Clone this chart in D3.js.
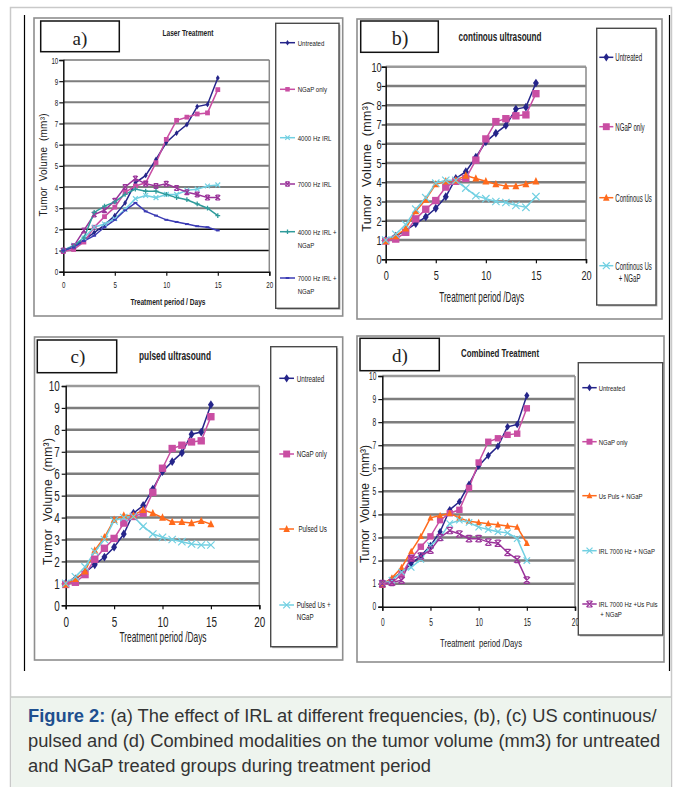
<!DOCTYPE html>
<html>
<head>
<meta charset="utf-8">
<script src="https://cdn.jsdelivr.net/npm/d3@7/dist/d3.min.js"></script>
<style>
  body { margin: 0; background: #fff; }
  text { fill: #222; }
</style>
</head>
<body>
<svg id="fig" width="675" height="787"></svg>
<script>
// ---- data ----
var days = [0, 1, 2, 3, 4, 5, 6, 7, 8, 9, 10, 11, 12, 13, 14, 15];
var xTicks = [0, 5, 10, 15, 20];
var yTicks = [0, 1, 2, 3, 4, 5, 6, 7, 8, 9, 10];

var untreated   = [1.0, 1.2, 1.5, 1.85, 2.2, 2.65, 3.25, 4.2, 4.55, 5.3, 6.1, 6.55, 6.95, 7.8, 7.9, 9.15];
var ngapOnly    = [0.95, 1.05, 1.4, 2.1, 2.6, 3.05, 3.75, 4.05, 4.2, 5.15, 6.25, 7.15, 7.3, 7.45, 7.5, 8.6];
var irl4000     = [1.0, 1.25, 1.6, 2.1, 2.25, 2.5, 2.95, 3.45, 3.6, 3.5, 3.65, 3.65, 3.85, 3.9, 4.05, 4.1];
var irl7000     = [1.0, 1.2, 1.95, 2.7, 2.9, 3.35, 4.0, 4.4, 4.15, 4.05, 4.15, 3.95, 3.75, 3.65, 3.5, 3.5];
var irl4000Ngap = [1.0, 1.2, 1.6, 2.8, 3.1, 3.3, 3.65, 3.9, 3.8, 3.8, 3.65, 3.5, 3.4, 3.2, 3.0, 2.65];
var irl7000Ngap = [1.0, 1.15, 1.45, 1.7, 2.1, 2.45, 2.9, 3.25, 2.85, 2.65, 2.45, 2.35, 2.25, 2.15, 2.1, 1.95];
var contUs      = [0.95, 1.2, 1.6, 2.5, 3.1, 3.9, 4.05, 4.1, 4.35, 4.2, 4.05, 3.9, 3.8, 3.8, 3.9, 4.05];
var contUsNgap  = [1.0, 1.3, 1.8, 2.6, 3.2, 3.95, 4.1, 4.1, 3.7, 3.3, 3.15, 3.0, 2.95, 2.8, 2.7, 3.25];
var pulsedUs    = [0.95, 1.2, 1.55, 2.5, 3.1, 3.9, 4.1, 4.1, 4.35, 4.2, 4.0, 3.8, 3.8, 3.75, 3.85, 3.7];
var pulsedUsNgap = [1.0, 1.3, 1.75, 2.45, 3.0, 3.85, 4.0, 4.05, 3.6, 3.25, 3.1, 3.0, 2.9, 2.8, 2.75, 2.75];
var usPulsNgap  = [0.95, 1.25, 1.7, 2.4, 3.05, 3.85, 3.95, 4.05, 3.85, 3.7, 3.65, 3.6, 3.55, 3.5, 3.45, 2.75];
var irl7000NgapD = [1.0, 1.15, 1.5, 1.7, 2.05, 2.65, 3.0, 3.6, 3.75, 3.65, 3.45, 3.35, 3.25, 3.2, 2.95, 2.0];
var irl7000UsPulsNgap = [1.0, 1.05, 1.15, 2.1, 2.2, 2.45, 3.0, 3.3, 3.15, 2.95, 2.95, 2.8, 2.75, 2.35, 2.05, 1.15];

var captionLines = [
  ["Figure 2:", " (a) The effect of IRL at different frequencies, (b), (c) US continuous/"],
  ["", "pulsed and (d) Combined modalities on the tumor volume (mm3) for untreated"],
  ["", "and NGaP treated groups during treatment period"]
];

var C = {
  navy: "#25258a", pink: "#c94ea3", cyan: "#72d0e2", purple: "#9a339a",
  teal: "#2f9b9b", blue: "#3b3bb4", orange: "#ff6a1c"
};

var sans = "Arial,'Liberation Sans',sans-serif";

var panels = [
  {
    tag: "a)", box: [34, 18, 342.7, 316], tagBox: [40.7, 21, 119.3, 51.7], tagPos: [80, 44.5], tagSize: 19,
    title: "Laser Treatment", titlePos: [188, 35.5], titleSize: 9.5, titleW: 51,
    plot: [63.3, 269.3, 271.7, 60], tickSize: 9.5, tickSx: 0.65, tickGap: 5, xTickY: 285,
    xTitle: "Treatment period / Days", xTitlePos: [168, 304.5], xTitleSize: 9.5, xTitleW: 75, xTitleBold: true,
    yTitlePos: [43.3, 165], yTitleSize: 10, yTitleW: 103, blackGrid: [1, 2], gridW: 2,
    legend: { box: [275.7, 23.3, 339, 308.3], rows: [42.7, 89.3, 137.7, 184, 231.7, 278], sx: [280, 295], tx: 297.7, size: 7.8, tsx: 0.78, lh: 13.5 },
    mk: 0.75,
    series: [
      { name: ["Untreated"], v: untreated, c: C.navy, m: "diamond" },
      { name: ["NGaP only"], v: ngapOnly, c: C.pink, m: "square" },
      { name: ["4000 Hz IRL"], v: irl4000, c: C.cyan, m: "x" },
      { name: ["7000 Hz IRL"], v: irl7000, c: C.purple, m: "star" },
      { name: ["4000 Hz IRL +", "NGaP"], v: irl4000Ngap, c: C.teal, m: "plus" },
      { name: ["7000 Hz IRL +", "NGaP"], v: irl7000Ngap, c: C.blue, m: "dash" }
    ]
  },
  {
    tag: "b)", box: [357, 19, 662, 319], tagBox: [360.7, 21, 438.3, 52.3], tagPos: [400, 45], tagSize: 20,
    title: "continous ultrasound", titlePos: [500, 41], titleSize: 13, titleW: 83,
    plot: [385.7, 586, 259.3, 66.7], tickSize: 13.5, tickSx: 0.68, tickGap: 4, xTickY: 275,
    xTitle: "Treatment period /Days", xTitlePos: [481.7, 301.5], xTitleSize: 14.5, xTitleW: 85, xTitleBold: false,
    yTitlePos: [366.7, 166.7], yTitleSize: 12.5, yTitleW: 130, blackGrid: [], gridW: 2.5,
    legend: { box: [596.7, 28.3, 656, 305], rows: [57.3, 126.7, 197.7, 265.7], sx: [599.3, 613.3], tx: 615.3, size: 11.5, tsx: 0.53, lh: 12.6 },
    mk: 1.15,
    series: [
      { name: ["Untreated"], v: untreated, c: C.navy, m: "diamond" },
      { name: ["NGaP only"], v: ngapOnly, c: C.pink, m: "square" },
      { name: ["Continous Us"], v: contUs, c: C.orange, m: "triangle" },
      { name: ["Continous Us", "  + NGaP"], v: contUsNgap, c: C.cyan, m: "x" }
    ]
  },
  {
    tag: "c)", box: [34.5, 337, 342.7, 660], tagBox: [37.3, 340, 116.7, 372.7], tagPos: [78, 363], tagSize: 19,
    title: "pulsed ultrasound", titlePos: [175, 359.5], titleSize: 13, titleW: 72,
    plot: [65.7, 259.3, 605.3, 386], tickSize: 15, tickSx: 0.66, tickGap: 6, xTickY: 621.5,
    xTitle: "Treatment period /Days", xTitlePos: [163, 642], xTitleSize: 14.5, xTitleW: 87, xTitleBold: false,
    yTitlePos: [47.3, 501.5], yTitleSize: 12, yTitleW: 127, blackGrid: [], gridW: 2.5,
    legend: { box: [270.7, 346.7, 336.7, 646.7], rows: [378.3, 454, 529, 605], sx: [279.3, 294], tx: 296.7, size: 9.5, tsx: 0.66, lh: 11.5 },
    mk: 1.15,
    series: [
      { name: ["Untreated"], v: untreated, c: C.navy, m: "diamond" },
      { name: ["NGaP only"], v: ngapOnly, c: C.pink, m: "square" },
      { name: [" Pulsed Us"], v: pulsedUs, c: C.orange, m: "triangle" },
      { name: ["Pulsed Us +", "NGaP"], v: pulsedUsNgap, c: C.cyan, m: "x" }
    ]
  },
  {
    tag: "d)", box: [357, 336, 664, 662], tagBox: [360, 338.3, 439.3, 370.7], tagPos: [400, 361.5], tagSize: 19,
    title: "Combined Treatment", titlePos: [500, 356.5], titleSize: 10.5, titleW: 78,
    plot: [382.3, 575, 606.7, 376], tickSize: 10, tickSx: 0.66, tickGap: 6, xTickY: 622.7,
    xTitle: "Treatment  period /Days", xTitlePos: [481, 647], xTitleSize: 11, xTitleW: 82, xTitleBold: false,
    yTitlePos: [364, 504], yTitleSize: 12, yTitleW: 118, blackGrid: [], gridW: 2.5,
    legend: { box: [578.3, 362.7, 662.7, 635], rows: [387.7, 441.7, 495.7, 550.7, 604], sx: [582.3, 596.7], tx: 598.7, size: 8, tsx: 0.75, lh: 10.5 },
    mk: 1,
    series: [
      { name: ["Untreated"], v: untreated, c: C.navy, m: "diamond" },
      { name: ["NGaP only"], v: ngapOnly, c: C.pink, m: "square" },
      { name: ["Us Puls + NGaP"], v: usPulsNgap, c: C.orange, m: "triangle" },
      { name: ["IRL 7000 Hz + NGaP"], v: irl7000NgapD, c: C.cyan, m: "x" },
      { name: ["IRL 7000 Hz +Us Puls", " + NGaP"], v: irl7000UsPulsNgap, c: C.purple, m: "star" }
    ]
  }
];

var svg = d3.select("#fig");

// page frame + caption panel
svg.append("rect").attr("x", 10.5).attr("y", 7.5).attr("width", 661).attr("height", 800)
  .attr("fill", "#fff").attr("stroke", "#c9c9c9").attr("stroke-width", 1.5);
svg.append("rect").attr("x", 11.3).attr("y", 697).attr("width", 659.5).attr("height", 95)
  .attr("fill", "#eef4ee");
svg.append("line").attr("x1", 11).attr("x2", 671).attr("y1", 697).attr("y2", 697)
  .attr("stroke", "#c4c8c4").attr("stroke-width", 1.5);
[24.5, 669.5].forEach(function(x) {
  svg.append("line").attr("x1", x).attr("x2", x).attr("y1", 15).attr("y2", 671)
    .attr("stroke", "#000").attr("stroke-width", 1.2);
});

// marker drawing
function marker(g, type, color, s) {
  if (type == "diamond") {
    g.append("path").attr("d", "M0," + (-s * 1.2) + "L" + (s * 0.8) + ",0L0," + (s * 1.2) + "L" + (-s * 0.8) + ",0Z")
      .attr("fill", color);
  } else if (type == "square") {
    g.append("rect").attr("x", -s).attr("y", -s).attr("width", 2 * s).attr("height", 2 * s).attr("fill", color);
  } else if (type == "triangle") {
    g.append("path").attr("d", "M0," + (-s * 1.15) + "L" + (s * 0.95) + "," + (s * 0.85) + "L" + (-s * 0.95) + "," + (s * 0.85) + "Z")
      .attr("fill", color);
  } else if (type == "x" || type == "star") {
    var p = "M" + (-s) + "," + (-s) + "L" + s + "," + s + "M" + s + "," + (-s) + "L" + (-s) + "," + s;
    if (type == "star") p += "M" + (-s * 0.7) + "," + (-s) + "L" + (s * 0.7) + "," + (-s) + "M" + (-s * 0.7) + "," + s + "L" + (s * 0.7) + "," + s;
    g.append("path").attr("d", p).attr("stroke", color).attr("stroke-width", 1.2).attr("fill", "none");
  } else if (type == "plus") {
    g.append("path").attr("d", "M" + (-s) + ",0L" + s + ",0M0," + (-s) + "L0," + s)
      .attr("stroke", color).attr("stroke-width", 1.3).attr("fill", "none");
  } else if (type == "dash") {
    g.append("path").attr("d", "M" + (-s * 0.8) + ",0L" + (s * 0.8) + ",0")
      .attr("stroke", color).attr("stroke-width", 2).attr("fill", "none");
  }
}

function squeeze(t, w, adj) {
  t.attr("textLength", w).attr("lengthAdjust", adj || "spacingAndGlyphs");
}

// condensed text: no narrow font is installed, so scale Arial sideways
function ntext(parent, x, y, str, size, sx, anchor) {
  return parent.append("text")
    .attr("transform", "translate(" + x + "," + y + ") scale(" + sx + ",1)")
    .attr("text-anchor", anchor || "start")
    .style("font-family", sans).style("font-size", size + "px").style("white-space", "pre")
    .text(str);
}

panels.forEach(function(P) {
  var g = svg.append("g");
  var b = P.box;
  g.append("rect").attr("x", b[0]).attr("y", b[1]).attr("width", b[2] - b[0]).attr("height", b[3] - b[1])
    .attr("fill", "#fff").attr("stroke", "#8e8e8e").attr("stroke-width", 1.6);

  // tag box
  var tb = P.tagBox;
  g.append("rect").attr("x", tb[0]).attr("y", tb[1]).attr("width", tb[2] - tb[0]).attr("height", tb[3] - tb[1])
    .attr("fill", "#fff").attr("stroke", "#111").attr("stroke-width", 1.5);
  g.append("text").attr("x", P.tagPos[0]).attr("y", P.tagPos[1]).attr("text-anchor", "middle")
    .style("font-family", "'Liberation Serif','DejaVu Serif',serif").style("font-size", P.tagSize + "px")
    .text(P.tag);

  // title
  var tt = g.append("text").attr("x", P.titlePos[0]).attr("y", P.titlePos[1]).attr("text-anchor", "middle")
    .style("font-family", sans).style("font-size", P.titleSize + "px")
    .style("font-weight", "bold").text(P.title);
  squeeze(tt, P.titleW);

  var x = d3.scaleLinear().domain([0, 20]).range([P.plot[0], P.plot[1]]);
  var y = d3.scaleLinear().domain([0, 10]).range([P.plot[2], P.plot[3]]);

  // gridlines
  g.selectAll(null).data(yTicks.slice(1)).enter().append("line")
    .attr("x1", x(0)).attr("x2", x(20)).attr("y1", function(d) { return y(d); }).attr("y2", function(d) { return y(d); })
    .attr("stroke", function(d) { return P.blackGrid.indexOf(d) >= 0 ? "#111" : (d == 10 ? "#9a9a9a" : "#7d7d7d"); })
    .attr("stroke-width", function(d) { return P.blackGrid.indexOf(d) >= 0 ? 1.5 : P.gridW; });
  g.append("line").attr("x1", x(20)).attr("x2", x(20)).attr("y1", y(0)).attr("y2", y(10))
    .attr("stroke", "#8a8a8a").attr("stroke-width", 1.5);

  // axes
  var yg = g.append("g").attr("transform", "translate(" + x(0) + ",0)")
    .call(d3.axisLeft(y).tickValues(yTicks).tickSize(4));
  var xg = g.append("g").attr("transform", "translate(0," + y(0) + ")")
    .call(d3.axisBottom(x).tickValues(xTicks).tickSize(4).tickFormat(d3.format("d")));
  [yg, xg].forEach(function(a) {
    a.select(".domain").attr("stroke", "#111").attr("stroke-width", 1.5);
    a.selectAll(".tick line").attr("stroke", "#111").attr("stroke-width", 1.2);
    a.selectAll(".tick text").style("font-family", sans).style("font-size", P.tickSize + "px").attr("fill", "#222");
  });
  yg.selectAll(".tick text").attr("x", 0)
    .attr("transform", "translate(" + (-P.tickGap) + ",0) scale(" + P.tickSx + ",1)");
  xg.selectAll(".tick text").attr("y", 0).attr("dy", null)
    .attr("transform", "translate(0," + (P.xTickY + 0.36 * P.tickSize - y(0)) + ") scale(" + P.tickSx + ",1)");

  // axis titles
  var xt = g.append("text").attr("x", P.xTitlePos[0]).attr("y", P.xTitlePos[1]).attr("text-anchor", "middle")
    .style("font-family", sans).style("font-size", P.xTitleSize + "px").style("white-space", "pre")
    .style("font-weight", P.xTitleBold ? "bold" : "normal").text(P.xTitle);
  squeeze(xt, P.xTitleW);
  var yt = g.append("text")
    .attr("transform", "translate(" + (P.yTitlePos[0] + P.yTitleSize * 0.38) + "," + P.yTitlePos[1] + ") rotate(-90)")
    .attr("text-anchor", "middle").style("font-family", sans).style("font-size", P.yTitleSize + "px")
    .attr("fill", "#333").style("white-space", "pre").text("Tumor  Volume  (mm³)");
  squeeze(yt, P.yTitleW, "spacing");

  // series
  var line = d3.line().x(function(d, i) { return x(days[i]); }).y(function(d) { return y(d); });
  P.series.forEach(function(S) {
    g.append("path").datum(S.v).attr("d", line).attr("fill", "none")
      .attr("stroke", S.c).attr("stroke-width", 1.5);
  });
  P.series.forEach(function(S) {
    S.v.forEach(function(v, i) {
      var mg = g.append("g").attr("transform", "translate(" + x(days[i]) + "," + y(v) + ")");
      marker(mg, S.m, S.c, 3.2 * P.mk);
    });
  });

  // legend
  var L = P.legend;
  g.append("rect").attr("x", L.box[0] + 1.5).attr("y", L.box[1] + 1.5)
    .attr("width", L.box[2] - L.box[0]).attr("height", L.box[3] - L.box[1]).attr("fill", "#b5b5b5");
  g.append("rect").attr("x", L.box[0]).attr("y", L.box[1])
    .attr("width", L.box[2] - L.box[0]).attr("height", L.box[3] - L.box[1])
    .attr("fill", "#fff").attr("stroke", "#4a4a4a").attr("stroke-width", 1.4);
  P.series.forEach(function(S, k) {
    var ry = L.rows[k];
    g.append("line").attr("x1", L.sx[0]).attr("x2", L.sx[1]).attr("y1", ry).attr("y2", ry)
      .attr("stroke", S.c).attr("stroke-width", 1.5);
    var mg = g.append("g").attr("transform", "translate(" + ((L.sx[0] + L.sx[1]) / 2) + "," + ry + ")");
    marker(mg, S.m, S.c, 3 * P.mk);
    S.name.forEach(function(nm, j) {
      ntext(g, L.tx, ry + j * L.lh + L.size * 0.36, nm, L.size, L.tsx);
    });
  });
});

// caption
var capText = svg.append("g");
captionLines.forEach(function(parts, i) {
  var t = capText.append("text").attr("x", 0).attr("y", 722 + i * 25)
    .style("font-family", sans).style("font-size", "17.5px").style("white-space", "pre");
  if (parts[0]) t.append("tspan").style("font-weight", "bold").attr("fill", "#1e4f8f").text(parts[0]);
  t.append("tspan").attr("fill", "#333").text(parts[1]);
});
var w0 = capText.select("text").node().getComputedTextLength();
capText.attr("transform", "translate(28,0) scale(" + (629 / w0) + ",1)");
</script>
</body>
</html>
